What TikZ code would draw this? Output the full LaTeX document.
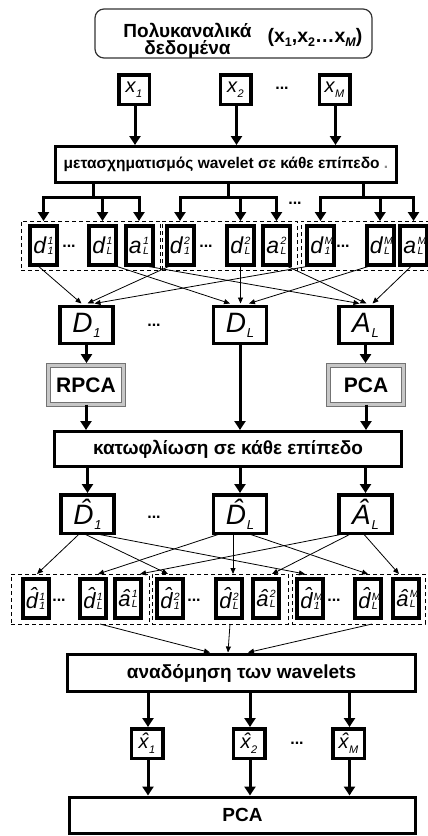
\documentclass[tikz,border=0pt]{standalone}
\usepackage{fontspec}
\setmainfont{Liberation Sans}
\usetikzlibrary{arrows.meta}
\newcommand\fs[1]{\fontsize{#1}{#1}\selectfont}
\newcommand\cfs{\fontsize{10.5}{10.5}\selectfont}
% letter with stacked upper and lower index
\newcommand\cf[3]{#1\kern0.06em\rlap{\raisebox{0.4em}{\cfs #2}}\raisebox{-0.04em}{\cfs #3}}
% letter with a lowered index
\newcommand\lo[3]{#1\kern0.03em\raisebox{#2}{#3}}
% circumflex placed over a letter
\newcommand\hatover[2]{\leavevmode\hbox{\setbox0\hbox{#2}\rlap{\hbox to\wd0{\hss\kern0.14em\raisebox{#1}{ˆ}\hss}}\box0}}

\begin{document}
\begin{tikzpicture}[x=1pt,y=-1pt,
  every node/.style={inner sep=0pt,outer sep=0pt},
  procbox/.style={draw,line width=3pt,font=\bfseries\fs{19}},
  varbox/.style={draw,line width=3.5pt,font=\itshape\fs{20}},
  bigvar/.style={draw,line width=3.5pt,minimum width=53pt,minimum height=37pt,font=\itshape\fs{28}},
  cfbox/.style={draw,line width=4pt,minimum width=27pt,minimum height=39pt,font=\itshape\fs{23}},
  grp/.style={draw,line width=1pt,dash pattern=on 4pt off 3pt},
  pcabox/.style={draw=black!55,double=black!22,double distance=2.4pt,line width=1.2pt,
    minimum width=75pt,minimum height=39pt,font=\bfseries\fs{21}},
  dots/.style={font=\bfseries\fs{16}},
  thk/.style={line width=3pt,-{Triangle[width=11pt,length=9pt]}},
  bar/.style={line width=3pt,line cap=rect},
  thn/.style={line width=0.8pt,-{Triangle[width=5pt,length=6pt]}}]
\useasboundingbox (0,0) rectangle (428,836);

% input data
\node[draw=black!80,line width=1.2pt,rounded corners=9pt,minimum width=277pt,minimum height=49pt] (top) at (233.5,33.5) {};
\node[font=\bfseries\fs{19},align=center] (ttl) at (187.5,41) {Πολυκαναλικά\\[-2pt]δεδομένα};
\node[font=\bfseries\fs{19.5},anchor=base] (vec) at (315,42) {(x\raisebox{-0.22em}{\fs{12.5}1},x\raisebox{-0.22em}{\fs{12.5}2}…x\raisebox{-0.22em}{\fs{12.5}\itshape M})};

\node[varbox,minimum width=30.5pt,minimum height=29.5pt] (x1) at (134,89.5) {\lo{x}{-0.25em}{\fs{11}1}};
\node[varbox,minimum width=30.5pt,minimum height=29.5pt] (x2) at (235.5,89.5) {\lo{x}{-0.25em}{\fs{11}2}};
\node[varbox,minimum width=30.5pt,minimum height=29.5pt] (xm) at (334.5,89.5) {\lo{x}{-0.25em}{\fs{11}M}};
\node[dots] (dx) at (282,88) {...};

% wavelet transform
\node[procbox,minimum width=341pt,minimum height=36pt,font=\bfseries\fs{15.5}] (wav) at (226,164.5) {μετασχηματισμός wavelet σε κάθε επίπεδο \textcolor{black!45}{.}};
\foreach \n in {x1,x2,xm}
  \draw[thk,shorten >=1.5pt] ([xshift=1pt]\n.south) -- ([xshift=1pt]\n.south |- wav.north);

% coefficient groups
\node[grp,minimum width=139.5pt,minimum height=49pt] (g1) at (90.75,245.5) {};
\node[grp,minimum width=135pt,minimum height=49pt] (g2) at (229.5,245.5) {};
\node[grp,minimum width=131pt,minimum height=49pt] (g3) at (366.5,245.5) {};

\node[cfbox] (d11) at (43.5,245.5) {\cf{d}{1}{1}};
\node[cfbox] (dl1) at (102.5,245.5) {\cf{d}{1}{L}};
\node[cfbox] (al1) at (139,245.5) {\cf{a}{1}{L}};
\node[cfbox] (d21) at (180,245.5) {\cf{d}{2}{1}};
\node[cfbox] (dl2) at (240.5,245.5) {\cf{d}{2}{L}};
\node[cfbox] (al2) at (276.5,245.5) {\cf{a}{2}{L}};
\node[cfbox] (dm1) at (320.5,245.5) {\cf{d}{M}{1}};
\node[cfbox] (dml) at (380,245.5) {\cf{d}{M}{L}};
\node[cfbox] (aml) at (413.5,245.5) {\cf{a}{M}{L}};
\node[dots] at (69,246) {...};
\node[dots] at (206,246) {...};
\node[dots] at (343,246) {...};
\node[dots] at (295,203) {...};

\coordinate (j1) at (93,197);
\coordinate (j2) at (228,197);
\coordinate (j3) at (363,197);
\foreach \j/\a/\b in {j1/d11/al1,j2/d21/al2,j3/dm1/aml}{
  \draw[bar] (\j |- wav.south) -- (\j);
  \draw[bar] (\a |- \j) -- (\b |- \j);
}
\foreach \c/\g in {d11/g1,dl1/g1,al1/g1,d21/g2,dl2/g2,al2/g2,dm1/g3,dml/g3,aml/g3}
  \draw[thk] (\c |- j1) -- (\c |- \g.north);

% level matrices
\node[bigvar] (D1) at (86.5,325) {\lo{D}{-0.17em}{\fs{13}1}};
\node[bigvar] (DL) at (240,325) {\lo{D}{-0.17em}{\fs{13}L}};
\node[bigvar] (AL) at (365.5,325) {\lo{A}{-0.17em}{\fs{13}L}};
\node[dots] at (154,325) {...};

\draw[thn] ([xshift=-6.5pt]d11.south) -- ([xshift=-5pt,yshift=3pt]D1.north);
\draw[thn] ([xshift=-8pt]d21.south) -- ([xshift=1pt,yshift=3pt]D1.north);
\draw[thn] ([xshift=-5pt]dm1.south) -- ([xshift=8pt,yshift=3pt]D1.north);
\draw[thn] ([xshift=10pt]dl1.south) -- ([xshift=-10pt,yshift=3pt]DL.north);
\draw[thn] (dl2.south) -- ([xshift=0.5pt,yshift=3pt]DL.north);
\draw[thn] ([xshift=-7pt]dml.south) -- ([xshift=9pt,yshift=3pt]DL.north);
\draw[thn] ([xshift=1pt]al1.south) -- ([xshift=-6pt,yshift=3pt]AL.north);
\draw[thn] ([xshift=8pt]al2.south) -- ([xshift=1pt,yshift=3pt]AL.north);
\draw[thn] ([xshift=-1pt]aml.south) -- ([xshift=7pt,yshift=3pt]AL.north);

% component analyses
\node[pcabox] (rpca) at (86,385) {RPCA};
\node[pcabox] (pca) at (366,385) {PCA};

\node[procbox,minimum width=347pt,minimum height=35pt] (thr) at (228,449) {κατωφλίωση σε κάθε επίπεδο};

\draw[thk,shorten >=2.4pt] (D1.south) -- (D1.south |- rpca.north);
\draw[thk,shorten >=2.4pt] (AL.south) -- (AL.south |- pca.north);
\draw[thk,shorten >=1.5pt] (rpca.south) -- (rpca.south |- thr.north);
\draw[thk,shorten >=1.5pt] (DL.south) -- (DL.south |- thr.north);
\draw[thk,shorten >=1.5pt] (pca.south) -- (pca.south |- thr.north);

% thresholded matrices
\node[bigvar,minimum height=38.5pt] (H1) at (87.5,514) {\lo{\hatover{0.2em}{D}}{-0.17em}{\fs{13}1}};
\node[bigvar,minimum height=38.5pt] (HL) at (240,514) {\lo{\hatover{0.2em}{D}}{-0.17em}{\fs{13}L}};
\node[bigvar,minimum height=38.5pt] (HA) at (365.5,514) {\lo{\hatover{0.2em}{A}}{-0.17em}{\fs{13}L}};
\node[dots] at (154,517) {...};
\foreach \n in {H1,HL,HA}
  \draw[thk,shorten >=1.75pt] (\n.north |- thr.south) -- (\n.north);

% thresholded coefficient groups
\node[grp,minimum width=138pt,minimum height=50pt] (k1) at (80,599) {};
\node[grp,minimum width=136pt,minimum height=50pt] (k2) at (220,599) {};
\node[grp,minimum width=133pt,minimum height=50pt] (k3) at (358.5,599) {};

\node[cfbox,minimum width=26pt,font=\itshape\fs{22}] (e11) at (35.5,598.5) {\cf{\hatover{0.26em}{d}}{1}{1}};
\node[cfbox,minimum width=26pt,font=\itshape\fs{22}] (el1) at (93,598.5) {\cf{\hatover{0.26em}{d}}{1}{L}};
\node[cfbox,minimum width=26pt,font=\itshape\fs{22}] (bl1) at (128,598.5) {\cf{\hatover{0.04em}{a}}{1}{L}};
\node[cfbox,minimum width=26pt,font=\itshape\fs{22}] (e21) at (170,598.5) {\cf{\hatover{0.26em}{d}}{2}{1}};
\node[cfbox,minimum width=26pt,font=\itshape\fs{22}] (el2) at (229,598.5) {\cf{\hatover{0.26em}{d}}{2}{L}};
\node[cfbox,minimum width=26pt,font=\itshape\fs{22}] (bl2) at (266,598.5) {\cf{\hatover{0.04em}{a}}{2}{L}};
\node[cfbox,minimum width=26pt,font=\itshape\fs{22}] (em1) at (310,598.5) {\cf{\hatover{0.26em}{d}}{M}{1}};
\node[cfbox,minimum width=26pt,font=\itshape\fs{22}] (eml) at (368,598.5) {\cf{\hatover{0.26em}{d}}{M}{L}};
\node[cfbox,minimum width=26pt,font=\itshape\fs{22}] (bml) at (406,598.5) {\cf{\hatover{0.04em}{a}}{M}{L}};
\node[dots] at (59,600) {...};
\node[dots] at (194,600) {...};
\node[dots] at (334,600) {...};

\draw[thn] ([xshift=-7.5pt]H1.south) -- ([xshift=1.5pt,yshift=5pt]e11.north);
\draw[thn] ([xshift=-4.5pt]H1.south) -- ([xshift=-2pt,yshift=5pt]e21.north);
\draw[thn] ([xshift=5.5pt]H1.south) -- ([xshift=-5pt,yshift=5pt]em1.north);
\draw[thn] ([xshift=-18pt]HL.south) -- ([xshift=5pt,yshift=5pt]el1.north);
\draw[thn] ([xshift=-7pt]HL.south) -- ([xshift=4pt,yshift=5pt]el2.north);
\draw[thn] ([xshift=7pt]HL.south) -- ([xshift=0pt,yshift=5pt]eml.north);
\draw[thn] ([xshift=-18.5pt]HA.south) -- ([xshift=12pt,yshift=5pt]bl1.north);
\draw[thn] ([xshift=-13.5pt]HA.south) -- ([xshift=6pt,yshift=5pt]bl2.north);
\draw[thn] ([xshift=-2.5pt]HA.south) -- ([xshift=-7pt,yshift=5pt]bml.north);

% reconstruction
\node[procbox,minimum width=348pt,minimum height=37pt] (rec) at (241.5,673) {αναδόμηση των wavelets};
\draw[thn] ([xshift=20pt]k1.south) -- ([xshift=-31.5pt,yshift=2pt]rec.north);
\draw[thn] ([xshift=10pt]k2.south) -- ([xshift=-13.5pt,yshift=2pt]rec.north);
\draw[thn] ([xshift=13.5pt]k3.south) -- ([xshift=6.5pt,yshift=2pt]rec.north);

\node[varbox,minimum width=31.5pt,minimum height=29.5pt] (y1) at (147,743.5) {\lo{\hatover{0.03em}{x}}{-0.25em}{\fs{11}1}};
\node[varbox,minimum width=31.5pt,minimum height=29.5pt] (y2) at (249,743.5) {\lo{\hatover{0.03em}{x}}{-0.25em}{\fs{11}2}};
\node[varbox,minimum width=31.5pt,minimum height=29.5pt] (ym) at (348.5,743.5) {\lo{\hatover{0.03em}{x}}{-0.25em}{\fs{11}M}};
\node[dots] at (297,743) {...};
\foreach \n in {y1,y2,ym}
  \draw[thk,shorten >=1.75pt] ([xshift=1pt]\n.north |- rec.south) -- ([xshift=1pt]\n.north);

% final analysis
\node[procbox,minimum width=346pt,minimum height=36pt] (fin) at (242.5,815) {PCA};
\foreach \n in {y1,y2,ym}
  \draw[thk,shorten >=1.5pt] ([xshift=1pt]\n.south) -- ([xshift=1pt]\n.south |- fin.north);
\end{tikzpicture}
\end{document}
